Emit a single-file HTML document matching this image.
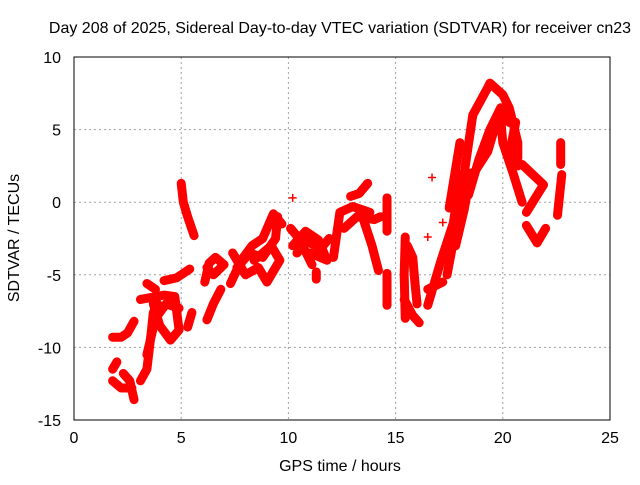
<!DOCTYPE html>
<html><head><meta charset="utf-8"><style>
body{margin:0;background:#fff;width:640px;height:480px;overflow:hidden}
svg text{font-family:"Liberation Sans",sans-serif;font-size:16px;fill:#000}
</style></head><body>
<svg id="chart" width="640" height="480" xmlns="http://www.w3.org/2000/svg">
<text x="340" y="33" text-anchor="middle">Day 208 of 2025, Sidereal Day-to-day VTEC variation (SDTVAR) for receiver cn23</text>
<text x="340" y="471" text-anchor="middle">GPS time / hours</text>
<text transform="translate(19,238) rotate(-90)" text-anchor="middle">SDTVAR / TECUs</text>
<g id="grid"></g><g id="ticks"></g><g id="marks"></g>
<rect x="74" y="57" width="536" height="363" fill="none" stroke="#000" stroke-width="1"/>
</svg>
<script>
const xTicks=[0,5,10,15,20,25];
const yTicks=[10,5,0,-5,-10,-15];
const track01=[[1.8,-12.3],[2.2,-12.8],[2.7,-12.8]];
const track02=[[1.8,-11.5],[2.0,-11.0]];
const track03=[[2.3,-11.8],[2.6,-12.3],[2.8,-13.6]];
const track04=[[1.8,-9.3],[2.2,-9.3],[2.5,-9.0],[2.8,-8.2]];
const track05=[[3.1,-12.3],[3.4,-11.5],[3.6,-9.0],[3.7,-7.6],[3.9,-7.0]];
const track06=[[3.7,-7.0],[4.0,-8.5],[4.5,-9.5],[4.9,-8.8],[4.7,-6.5],[4.2,-6.4],[3.1,-6.7]];
const track07=[[3.4,-5.6],[3.8,-6.0]];
const track08=[[4.2,-5.4],[4.8,-5.2],[5.4,-4.6]];
const track09=[[5.0,1.3],[5.1,0.0],[5.3,-1.0],[5.6,-2.3]];
const track10=[[5.5,-7.6],[5.3,-8.6]];
const track11=[[6.2,-8.1],[6.5,-7.0],[6.85,-6.0]];
const track12=[[6.1,-5.5],[6.3,-4.2],[6.6,-3.8],[7.0,-4.3],[6.5,-5.0],[6.2,-4.5]];
const track13=[[7.3,-5.6],[7.8,-4.0],[8.3,-3.0],[8.8,-2.5],[9.3,-0.8],[9.7,-1.5]];
const track14=[[7.4,-3.5],[8.0,-5.0],[8.6,-4.5],[9.0,-5.5],[9.6,-4.0],[9.2,-3.0],[8.4,-4.0]];
const track15=[[10.1,-1.8],[10.5,-2.5],[11.1,-4.3]];
const track16=[[10.2,-3.0],[10.8,-2.0],[11.4,-2.6],[11.8,-4.0],[11.0,-3.5]];
const track17=[[10.2,0.3]];
const track18=[[11.3,-4.8],[11.3,-5.3]];
const track19=[[12.1,-3.8],[12.4,-0.7],[13.0,-0.3],[13.8,-0.7]];
const track20=[[13.5,-1.2],[13.9,-3.0],[14.2,-4.7]];
const track21=[[12.9,0.4],[13.3,0.6],[13.7,1.3]];
const track22=[[14.6,0.3],[14.6,-2.0]];
const track23=[[14.6,-4.9],[14.6,-7.1]];
const track24=[[15.45,-2.4],[15.4,-5.0],[15.45,-8.0]];
const track25=[[15.4,-6.7],[15.8,-7.8],[16.1,-8.3]];
const track26=[[15.55,-3.0],[15.8,-3.8],[15.9,-5.5],[16.0,-7.0]];
const track27=[[16.5,-7.1],[17.1,-4.1],[17.7,-1.4],[18.0,1.9]];
const track28=[[16.5,-6.0],[17.2,-5.5]];
const track29=[[17.4,-5.0],[17.9,-1.1],[18.3,3.0],[18.6,6.0],[19.3,7.9],[19.4,8.2],[20.0,7.4],[20.3,6.5],[20.7,4.1],[20.7,3.0]];
const track30=[[18.6,1.9],[19.3,3.5],[19.7,5.5],[19.9,5.8],[20.0,4.1],[20.5,1.9],[20.9,0.0]];
const track31=[[17.5,-0.4],[18.0,4.1]];
const track32=[[20.9,2.6],[21.9,1.2],[21.1,-0.7]];
const track33=[[21.1,-1.6],[21.6,-2.8],[22.0,-1.8]];
const track34=[[22.7,4.1],[22.7,2.6]];
const track35=[[22.75,1.9],[22.55,-0.9]];
const track36=[[16.7,1.7]];
const track37=[[16.5,-2.4]];
const track38=[[17.2,-1.4]];
const track39=[[7.6,-4.5],[8.2,-3.5],[8.8,-3.8],[9.4,-2.5],[9.5,-1.0]];
const track40=[[10.4,-3.5],[10.9,-2.7],[11.5,-3.2],[11.9,-2.5]];
const track41=[[18.4,0.5],[18.9,3.0],[19.4,5.0],[19.9,6.5],[20.3,5.5]];
const track42=[[17.8,-3.0],[18.2,-0.5],[18.5,2.0]];
const track43=[[3.4,-10.5],[3.8,-8.0],[4.3,-7.0],[4.9,-7.3]];
const track44=[[12.6,-1.8],[13.2,-1.0],[14.0,-1.2],[14.3,-1.0]];
const track45=[[20.6,5.5],[20.4,4.0],[20.7,2.5]];
const tracks=[track01,track02,track03,track04,track05,track06,track07,track08,track09,track10,track11,track12,track13,track14,track15,track16,track17,track18,track19,track20,track21,track22,track23,track24,track25,track26,track27,track28,track29,track30,track31,track32,track33,track34,track35,track36,track37,track38,track39,track40,track41,track42,track43,track44,track45];

const X0=74,X1=610,Y0=420,Y1=57;
const xs=v=>X0+(v-0)/25*(X1-X0);
const ys=v=>Y0-(v+15)/25*(Y0-Y1);
const NS='http://www.w3.org/2000/svg';
const grid=document.getElementById('grid'),ticks=document.getElementById('ticks'),marks=document.getElementById('marks');
function mk(t,a,p){const e=document.createElementNS(NS,t);for(const k in a)e.setAttribute(k,a[k]);p.appendChild(e);return e;}
xTicks.forEach(t=>{const x=xs(t);
 if(t>0&&t<25){const g=mk('line',{x1:x,x2:x,y1:Y1,y2:Y0,stroke:'#a0a0a0','stroke-dasharray':'2,3'},grid);
 
 }
 const l=mk('text',{x:x,y:443,'text-anchor':'middle'},ticks);l.textContent=t;
 
 
});
yTicks.forEach(t=>{const y=ys(t);
 if(t>-15&&t<10){const g=mk('line',{x1:X0,x2:X1,y1:y,y2:y,stroke:'#a0a0a0','stroke-dasharray':'2,3'},grid);
 
 }
 const l=mk('text',{x:61,y:y+6,'text-anchor':'end'},ticks);l.textContent=t;
 
 
});
tracks.forEach(tr=>{
 const pts=tr.map(p=>xs(p[0])+','+ys(p[1])).join(' ');
 const pl=mk('polyline',{points:pts,fill:'none',stroke:'#ff0000','stroke-width':9,'stroke-linejoin':'round','stroke-linecap':'round'},marks);
 
 
 tr.forEach(p=>{const x=xs(p[0]),y=ys(p[1]);
  const m=mk('path',{d:`M${x-4},${y}h8M${x},${y-4}v8`,stroke:'#ff0000','stroke-width':1.5},marks);
  
  
 });
});
</script>
</body></html>
